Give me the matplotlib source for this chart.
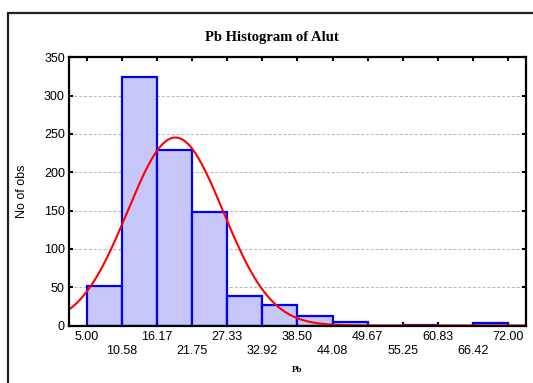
import numpy as np
import matplotlib.pyplot as plt
from matplotlib.patches import Rectangle

# bin edges and counts
edges = [5.00, 10.58, 16.17, 21.75, 27.33, 32.92, 38.50, 44.08,
         49.67, 55.25, 60.83, 66.42, 72.00]
counts = [51, 325, 229, 148, 38, 27, 12, 4, 0, 1, 0, 3]
tick_labels = ["5.00", "10.58", "16.17", "21.75", "27.33", "32.92", "38.50",
               "44.08", "49.67", "55.25", "60.83", "66.42", "72.00"]
fit_mean = 19.1
fit_std = 7.6

sans = ['Liberation Sans', 'DejaVu Sans']
serif = ['Liberation Serif', 'DejaVu Serif']
plt.rcParams['font.family'] = sans

fig = plt.figure(figsize=(5.33, 3.83), dpi=100)
ax = fig.add_axes([69/533, 1 - 325.5/383, (526 - 69)/533, (325.5 - 57.4)/383])

edges = np.array(edges)
width = edges[1] - edges[0]
ax.bar(edges[:-1], counts, width=np.diff(edges), align='edge',
       color='#c6c6f8', edgecolor='#0000ff', linewidth=1.6, zorder=2)

# normal fit
n = sum(counts)
lo, hi = edges[0] - width / 2, edges[-1] + width / 2
xs = np.linspace(lo, hi, 400)
ys = n * width * np.exp(-0.5 * ((xs - fit_mean) / fit_std) ** 2) / (fit_std * np.sqrt(2 * np.pi))
ax.plot(xs, ys, color='#ff0000', linewidth=1.5, zorder=3)

ax.set_xlim(lo, hi)
ax.set_ylim(0, 350)
ax.set_yticks(range(0, 351, 50))
ax.set_xticks(edges)
ax.set_xticklabels([t if i % 2 == 0 else "\n" + t for i, t in enumerate(tick_labels)],
                   linespacing=1.25)
ax.yaxis.grid(True, linestyle=(0, (3, 2)), color='#b4b4b4', linewidth=0.7, zorder=0)
ax.set_axisbelow(True)

ax.tick_params(axis='both', direction='in', length=3, width=1.5,
               top=True, right=True, labelsize=9, pad=3)
ax.tick_params(axis='x', pad=4)
for s in ax.spines.values():
    s.set_linewidth(1.6)
    s.set_zorder(4)

ax.set_ylabel("No of obs", fontsize=9)
ax.yaxis.set_label_coords(-0.09, 0.5)
ax.set_xlabel("Pb", fontsize=6.5, fontweight='bold', family=serif, labelpad=6)

fig.text(272/533, 1 - 37/383, "Pb Histogram of Alut", ha='center', va='center',
         fontsize=10.5, fontweight='bold', family=serif)

# outer frame (extends past the right and bottom edges)
fig.add_artist(Rectangle((8/533, -0.1), 1.2, 0.1 + 1 - 13/383, fill=False,
                         linewidth=1.6, edgecolor='#222222',
                         transform=fig.transFigure))

fig.savefig('out.png', dpi=100)
